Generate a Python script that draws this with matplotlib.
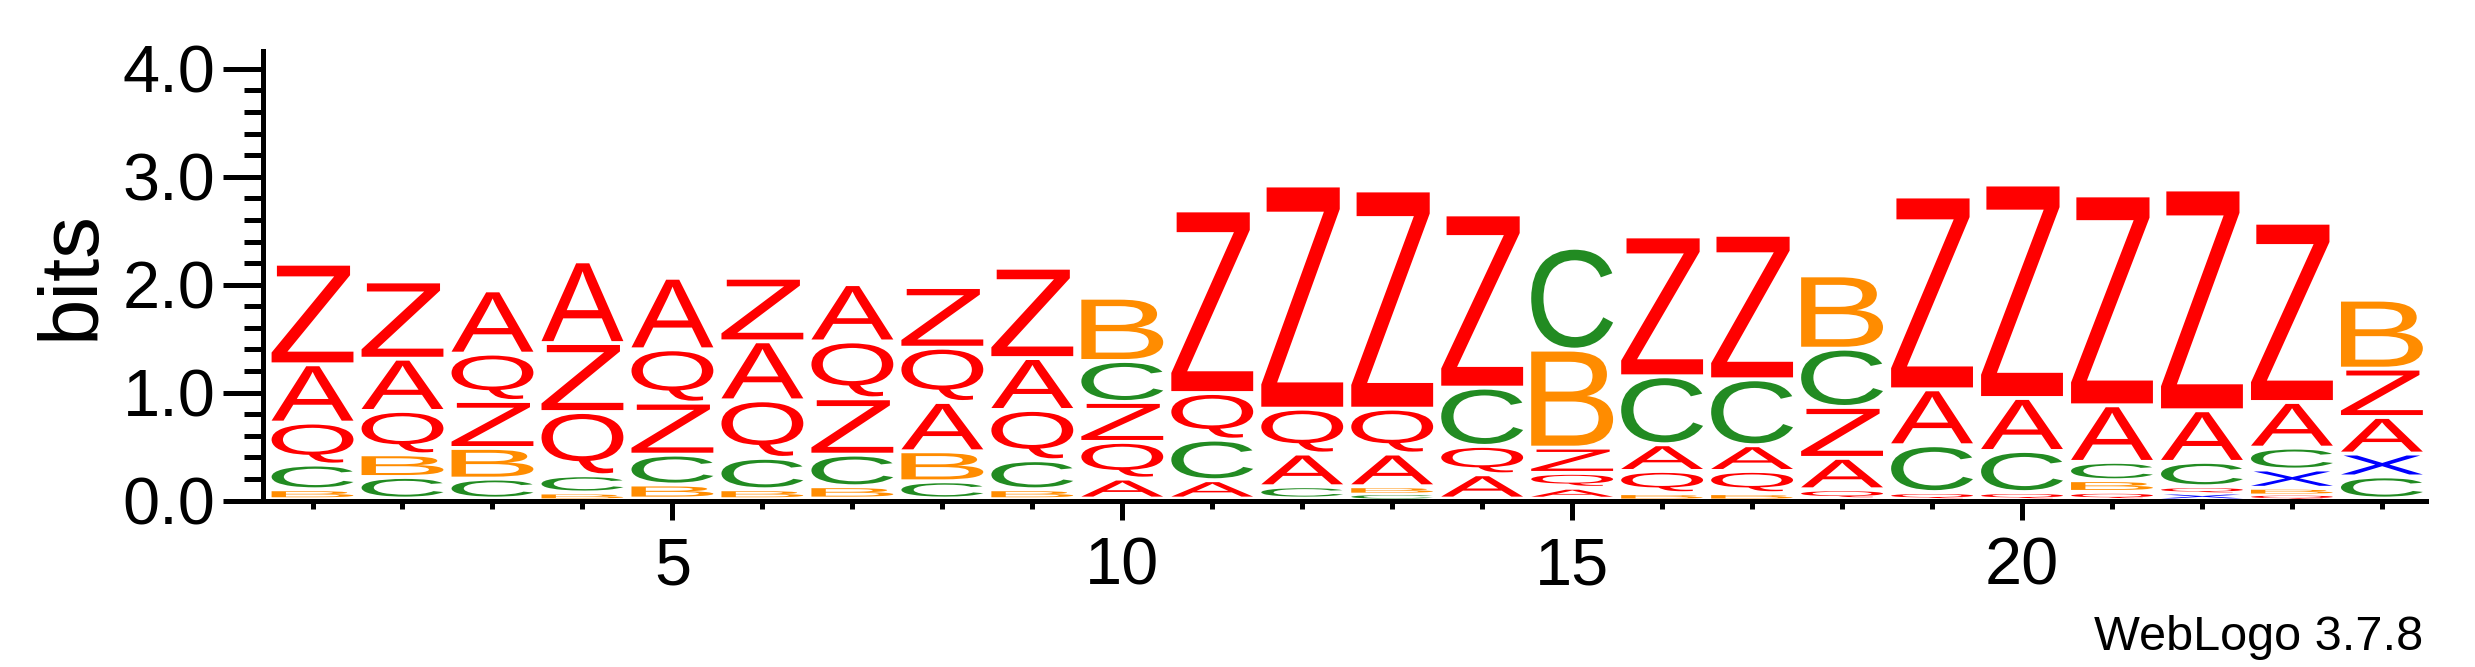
import numpy as np
import matplotlib as mpl
mpl.use('Agg')
import matplotlib.pyplot as plt
from matplotlib.textpath import TextPath
from matplotlib.patches import PathPatch
from matplotlib.font_manager import FontProperties
from matplotlib.transforms import Affine2D
from matplotlib.ticker import FixedLocator, MultipleLocator, FormatStrFormatter

plt.rcParams['font.family'] = ['Liberation Sans', 'DejaVu Sans']

positions = np.arange(1, 25)
Z = [.932, .716, .435, .639, .482, .589, .522, .562, .837, .370, 1.692, 2.068,
     2.022, 1.605, .234, 1.296, 1.339, .472, 1.787, 1.978, 1.945, 2.046, 1.661, .448]
A = [.540, .484, .586, .757, .663, .547, .531, .457, .481, .185, .170, .303,
     .303, .225, .100, .247, .238, .291, .518, .491, .524, .478, .423, .339]
Q = [.389, .402, .439, .586, .494, .533, .527, .503, .466, .340, .432, .416,
     .416, .263, .138, .206, .206, .086, .060, .060, .062, .059, .045, 0]
B = [.086, .210, .284, .056, .130, .086, .114, .278, .086, .586, 0, 0,
     .064, 0, .908, .050, .050, .679, 0, 0, .108, 0, .055, .639]
C = [.229, .200, .185, .160, .277, .291, .293, .160, .269, .380, .376, .114,
     .050, .540, .944, .630, .611, .540, .434, .381, .170, .226, .203, .205]
X = [0, 0, 0, 0, 0, 0, 0, 0, 0, 0, 0, 0,
     0, 0, 0, 0, 0, 0, 0, 0, 0, .055, .169, .212]

letters = {'Z': Z, 'A': A, 'Q': Q, 'B': B, 'C': C, 'X': X}
colors = {'Z': '#ff0000', 'A': '#ff0000', 'Q': '#ff0000',
          'B': '#ff8c00', 'C': '#228b22', 'X': '#0000ff'}

xticks = [5, 10, 15, 20]
yticks = [0, 1, 2, 3, 4]

fig = plt.figure(figsize=(24.75, 6.67), dpi=100)
ax = fig.add_axes([262.5/2475, 166.5/667, (2426-262.5)/2475, (500-50)/667])
ax.set_xlim(0.444, 24.49)
ax.set_ylim(0, 4.17)

glyph_font = FontProperties(family='Liberation Sans')
width = 0.91


def draw_letter(ch, x, y0, h, color):
    tp = TextPath((0, 0), ch, size=1, prop=glyph_font)
    bb = tp.get_extents()
    pad = min(0.036, 0.35*h)
    t = Affine2D().translate(-bb.x0, -bb.y0).scale(width/bb.width, (h-pad)/bb.height) \
        .translate(x - width/2, y0 + pad)
    ax.add_patch(PathPatch(t.transform_path(tp), fc=color, ec='none', lw=0))


for i, x in enumerate(positions):
    stack = sorted([(letters[k][i], k) for k in letters if letters[k][i] > 0])
    y = 0.0
    for h, k in stack:
        draw_letter(k, x, y, h, colors[k])
        y += h

for s in ['top', 'right']:
    ax.spines[s].set_visible(False)
for s in ['left', 'bottom']:
    ax.spines[s].set_linewidth(3.6)

ax.yaxis.set_major_locator(FixedLocator(yticks))
ax.yaxis.set_minor_locator(MultipleLocator(0.2))
ax.yaxis.set_major_formatter(FormatStrFormatter('%.1f'))
ax.xaxis.set_major_locator(FixedLocator(xticks))
ax.xaxis.set_minor_locator(FixedLocator(positions))
ax.tick_params(axis='y', which='major', length=29, width=3.6, pad=5, labelsize=48)
ax.tick_params(axis='y', which='minor', length=14, width=3.6)
ax.tick_params(axis='x', which='major', length=14, width=3.6, pad=12, labelsize=48)
ax.tick_params(axis='x', which='minor', length=5.5, width=3.6)

fig.text(72/2475, 1-275/667, 'bits', rotation=90, ha='center', va='center', fontsize=60)
fig.text(2423/2475, 17/667, 'WebLogo 3.7.8', ha='right', va='baseline', fontsize=35)

plt.savefig('out.png', dpi=100)
